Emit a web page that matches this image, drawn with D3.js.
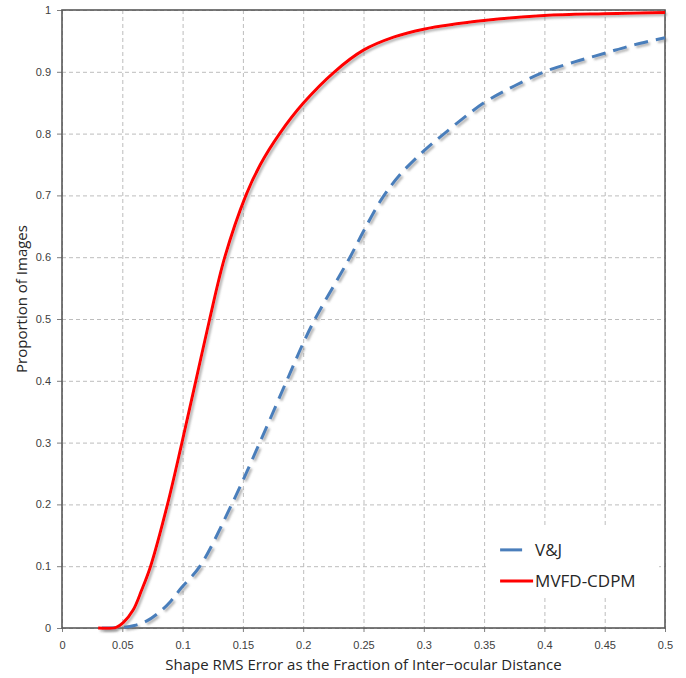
<!DOCTYPE html>
<html>
<head>
<meta charset="utf-8">
<script src="https://cdn.jsdelivr.net/npm/d3@7"></script>
<style>
  body { margin: 0; background: #fff; }
  svg { font-family: 'Open Sans', 'Noto Sans', sans-serif; }
</style>
</head>
<body>
<svg id="chart"></svg>
<script>
// series
const seriesNames = ['V&J', 'MVFD-CDPM']

const vjX = [0.033, 0.05, 0.06, 0.07, 0.081, 0.09, 0.099, 0.1144, 0.1407, 0.164, 0.1863, 0.2, 0.2098, 0.2388, 0.25, 0.265, 0.28, 0.3, 0.3157, 0.35, 0.375, 0.4, 0.425, 0.45, 0.475, 0.5]
const vjY = [0, 0.001, 0.004, 0.011, 0.026, 0.043, 0.065, 0.1, 0.2, 0.3, 0.4, 0.461, 0.5, 0.6, 0.642, 0.694, 0.733, 0.772, 0.798, 0.85, 0.877, 0.9, 0.916, 0.93, 0.944, 0.955]

const mvfdX = [0.03, 0.045, 0.051, 0.059, 0.066, 0.0735, 0.0875, 0.0995, 0.111, 0.1225, 0.135, 0.1525, 0.1645, 0.1805, 0.2, 0.226, 0.25, 0.275, 0.3, 0.35, 0.4, 0.45, 0.5]
const mvfdY = [0, 0.001, 0.009, 0.029, 0.061, 0.1, 0.2, 0.3, 0.4, 0.5, 0.6, 0.7, 0.75, 0.8, 0.849, 0.9, 0.935, 0.956, 0.969, 0.983, 0.991, 0.994, 0.996]

const xTicks = [0, 0.05, 0.1, 0.15, 0.2, 0.25, 0.3, 0.35, 0.4, 0.45, 0.5]
const yTicks = [0, 0.1, 0.2, 0.3, 0.4, 0.5, 0.6, 0.7, 0.8, 0.9, 1]

const W = 686, H = 678
const margin = { top: 10, right: 21, bottom: 50, left: 62 }
const width = W - margin.left - margin.right
const height = H - margin.top - margin.bottom

const svg = d3.select('#chart').attr('width', W).attr('height', H)

const defs = svg.append('defs')
const shadow = defs.append('filter').attr('id', 'shadow')
	.attr('x', '-5%').attr('y', '-5%').attr('width', '110%').attr('height', '110%')
shadow.append('feDropShadow')
	.attr('dx', 2).attr('dy', 2).attr('stdDeviation', 1.2)
	.attr('flood-color', '#777').attr('flood-opacity', 0.55)

const g = svg.append('g').attr('transform', `translate(${margin.left},${margin.top})`)

const x = d3.scaleLinear().domain([0, 0.5]).range([0, width])
const y = d3.scaleLinear().domain([0, 1]).range([height, 0])

// grid
g.append('g')
	.call(d3.axisBottom(x).tickValues(xTicks).tickSize(height).tickFormat(''))
	.call((s) => s.select('.domain').remove())
	.selectAll('line')
	.attr('stroke', '#bdbdbd')
	.attr('stroke-dasharray', '4,3')
g.append('g')
	.call(d3.axisLeft(y).tickValues(yTicks).tickSize(-width).tickFormat(''))
	.call((s) => s.select('.domain').remove())
	.selectAll('line')
	.attr('stroke', '#bdbdbd')
	.attr('stroke-dasharray', '4,3')

// axes
const xAxis = g.append('g')
	.attr('transform', `translate(0,${height})`)
	.call(d3.axisBottom(x).tickValues(xTicks).tickSize(4).tickPadding(9).tickFormat(d3.format('')))
const yAxis = g.append('g')
	.call(d3.axisLeft(y).tickValues(yTicks).tickSize(5).tickPadding(6).tickFormat(d3.format('')))
for (const ax of [xAxis, yAxis]) {
	ax.select('.domain').remove()
	ax.selectAll('line').attr('stroke', '#7f7f7f')
	ax.selectAll('text').attr('fill', '#404040').style('font-size', '11px')
}

// plot frame
g.append('rect')
	.attr('width', width).attr('height', height)
	.attr('fill', 'none').attr('stroke', '#595959').attr('stroke-width', 1.6)

const line = d3.line()
	.x((d) => x(d[0]))
	.y((d) => y(d[1]))
	.curve(d3.curveCatmullRom.alpha(0.5))

const vjData = vjX.map((v, i) => [v, vjY[i]])
const mvfdData = mvfdX.map((v, i) => [v, mvfdY[i]])

g.append('path')
	.datum(vjData)
	.attr('d', line)
	.attr('fill', 'none')
	.attr('stroke', '#4a7ebb')
	.attr('stroke-width', 3)
	.attr('stroke-dasharray', '14,8')
	.attr('filter', 'url(#shadow)')

g.append('path')
	.datum(mvfdData)
	.attr('d', line)
	.attr('fill', 'none')
	.attr('stroke', '#ff0000')
	.attr('stroke-width', 3)
	.attr('filter', 'url(#shadow)')

// legend
const legend = g.append('g').attr('transform', `translate(${x(0.35) + 3},${y(0.162)})`)
legend.append('rect')
	.attr('width', 172).attr('height', 70)
	.attr('fill', '#fff')
const legendColors = ['#4a7ebb', '#ff0000']
const legendLens = [22, 33]
seriesNames.forEach((name, i) => {
	const row = legend.append('g').attr('transform', `translate(0,${22 + i * 31})`)
	row.append('line')
		.attr('x1', 13).attr('x2', 13 + legendLens[i])
		.attr('stroke', legendColors[i]).attr('stroke-width', 3)
	row.append('text')
		.attr('x', 48).attr('y', 6)
		.attr('fill', '#262626')
		.style('font-size', '17px')
		.text(name)
})

// axis titles
svg.append('text')
	.attr('x', margin.left + width / 2)
	.attr('y', 670)
	.attr('text-anchor', 'middle')
	.attr('fill', '#262626')
	.style('font-size', '15px')
	.text('Shape RMS Error as the Fraction of Inter\u2212ocular Distance')

svg.append('text')
	.attr('transform', `translate(27,${margin.top + height / 2 - 20}) rotate(-90)`)
	.attr('text-anchor', 'middle')
	.attr('fill', '#262626')
	.style('font-size', '15px')
	.text('Proportion of Images')
</script>
</body>
</html>
